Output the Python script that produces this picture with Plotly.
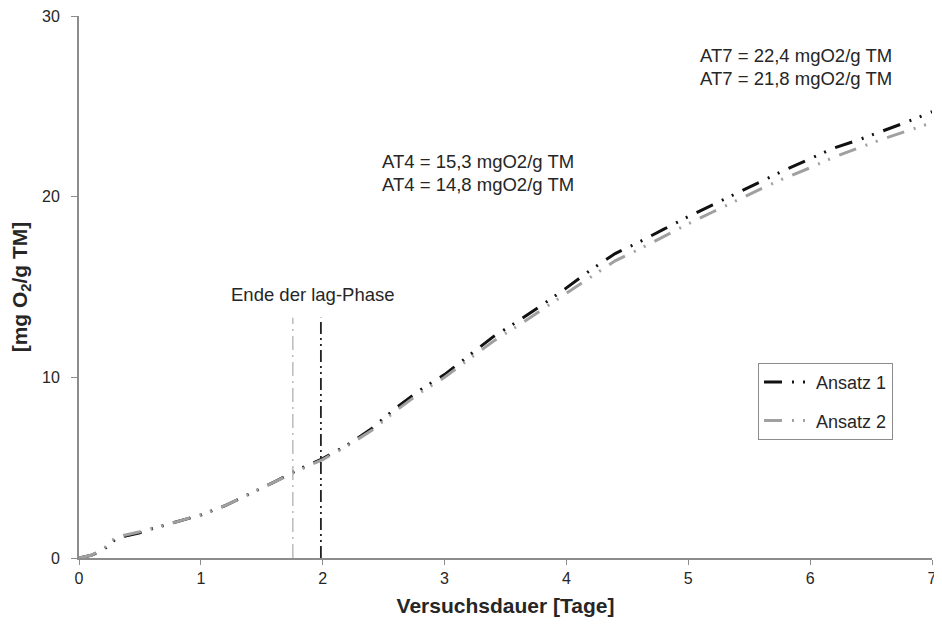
import plotly.graph_objects as go

days = [0.0, 0.1, 0.2, 0.3, 0.4, 0.5, 0.6, 0.8, 1.0, 1.2, 1.4, 1.6, 1.8, 2.0, 2.2, 2.4, 2.6, 2.8,
        3.0, 3.2, 3.4, 3.6, 3.8, 4.0, 4.2, 4.4, 4.6, 4.8, 5.0, 5.2, 5.4, 5.6, 5.8, 6.0, 6.2,
        6.4, 6.6, 6.8, 7.0]
ansatz1 = [0.0, 0.15, 0.45, 1.05, 1.25, 1.4, 1.62, 2.0, 2.38, 2.9, 3.55, 4.2, 4.9, 5.5, 6.25,
           7.15, 8.3, 9.3, 10.15, 11.2, 12.25, 13.1, 14.0, 14.95, 15.95, 16.85, 17.5, 18.2,
           18.9, 19.55, 20.2, 20.85, 21.5, 22.1, 22.7, 23.15, 23.65, 24.15, 24.7]
ansatz2 = [0.0, 0.15, 0.5, 1.15, 1.3, 1.45, 1.65, 2.0, 2.4, 2.9, 3.55, 4.2, 4.85, 5.45, 6.2,
           7.05, 8.15, 9.15, 10.0, 11.0, 12.0, 12.85, 13.75, 14.7, 15.6, 16.45, 17.1, 17.8,
           18.5, 19.15, 19.8, 20.45, 21.05, 21.6, 22.2, 22.7, 23.2, 23.65, 24.1]
series_names = ["Ansatz 1", "Ansatz 2"]
series_colors = ["#111111", "#a0a0a0"]
lag_end = [1.985, 1.755]
lag_top = 13.3
notes_at4 = ["AT4 = 15,3 mgO2/g TM", "AT4 = 14,8 mgO2/g TM"]
notes_at7 = ["AT7 = 22,4 mgO2/g TM", "AT7 = 21,8 mgO2/g TM"]
x_ticks = [0, 1, 2, 3, 4, 5, 6, 7]
y_ticks = [0, 10, 20, 30]

FONT = "Liberation Sans, Arial, sans-serif"
TXT = "#262626"
dash_curve = "18px,10px,2px,9px,2px,10px"

fig = go.Figure()
for i, (name, ys, col) in enumerate(zip(series_names, [ansatz1, ansatz2], series_colors)):
    fig.add_trace(go.Scatter(x=days, y=ys, mode="lines", name=name, legendgroup=f"g{i}",
                             line=dict(color=col, width=3, dash=dash_curve)))

# lag-phase end markers
fig.add_trace(go.Scatter(x=[lag_end[1], lag_end[1]], y=[0, lag_top], mode="lines",
                         line=dict(color="#aaaaaa", width=1.2, dash="14px,5px,2px,5px"),
                         showlegend=False, hoverinfo="skip"))
fig.add_trace(go.Scatter(x=[lag_end[0], lag_end[0]], y=[0, lag_top], mode="lines",
                         line=dict(color="#222222", width=1.8, dash="12px,4px,2px,4px,2px,4px"),
                         showlegend=False, hoverinfo="skip"))

annots = [
    dict(x=1.92, y=14.6, text="Ende der lag-Phase", xanchor="center"),
    dict(x=2.47, y=21.95, text=notes_at4[0], xanchor="left"),
    dict(x=2.47, y=20.7, text=notes_at4[1], xanchor="left"),
    dict(x=5.08, y=27.8, text=notes_at7[0], xanchor="left"),
    dict(x=5.08, y=26.55, text=notes_at7[1], xanchor="left"),
]
for a in annots:
    fig.add_annotation(x=a["x"], y=a["y"], text=a["text"], xanchor=a["xanchor"], yanchor="middle",
                       showarrow=False, font=dict(family=FONT, size=18.5, color=TXT))

# the page body adds an 8px margin, so the figure is 8px smaller and margins shifted
fig.update_layout(
    width=934, height=624,
    margin=dict(l=71, r=10, t=8, b=74),
    paper_bgcolor="white", plot_bgcolor="white",
    font=dict(family=FONT, size=16, color=TXT),
    xaxis=dict(range=[0, 7], tickvals=x_ticks, showgrid=False, zeroline=False, automargin=False,
               showline=True, linecolor="#8c8c8c", linewidth=2, ticks="outside", ticklen=5,
               tickcolor="#8c8c8c", tickfont=dict(size=16, color=TXT), ticklabeloverflow="allow",
               title=dict(text="<b>Versuchsdauer [Tage]</b>", font=dict(size=21), standoff=12)),
    yaxis=dict(range=[0, 30], tickvals=y_ticks, showgrid=False, zeroline=False, automargin=False,
               showline=True, linecolor="#8c8c8c", linewidth=2, ticks="outside", ticklen=6,
               ticklabelstandoff=8,
               tickcolor="#8c8c8c", tickfont=dict(size=16, color=TXT), ticklabeloverflow="allow",
               title=dict(text="<b>[mg O<sub>2</sub>/g TM]</b>", font=dict(size=21), standoff=12)),
    legend=dict(x=0.796, y=0.36, xanchor="left", yanchor="top", bordercolor="#8c8c8c",
                borderwidth=1, bgcolor="white", font=dict(size=18, color=TXT),
                traceorder="grouped", tracegroupgap=12, itemwidth=47),
    showlegend=True,
)

fig.write_html("out.html")
